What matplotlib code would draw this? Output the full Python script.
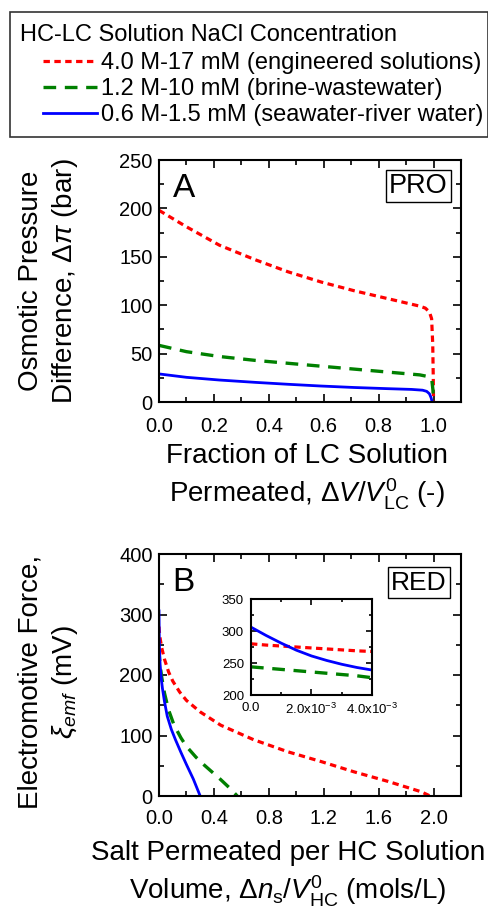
import matplotlib
matplotlib.use("Agg")
import matplotlib.pyplot as plt
from matplotlib.ticker import MultipleLocator, FormatStrFormatter, FuncFormatter
from matplotlib.patches import Rectangle

plt.rcParams['font.family'] = ['Liberation Sans', 'DejaVu Sans']
plt.rcParams['mathtext.fontset'] = 'custom'
plt.rcParams['mathtext.rm'] = 'Liberation Sans'
plt.rcParams['mathtext.it'] = 'Liberation Sans:italic'
plt.rcParams['mathtext.bf'] = 'Liberation Sans:bold'

# series names / colours
labels = ["4.0 M-17 mM (engineered solutions)",
          "1.2 M-10 mM (brine-wastewater)",
          "0.6 M-1.5 mM (seawater-river water)"]
colors = ["#ff0000", "#008000", "#0000ff"]

# panel A: osmotic pressure difference vs fraction of LC permeated
pro_x_red = [0, 0.1, 0.22, 0.35, 0.47, 0.59, 0.71, 0.83, 0.95, 0.97, 0.985, 0.993, 0.997, 0.999, 1.0]
pro_y_red = [198, 181, 162, 147, 134.5, 124, 115, 107, 99, 97, 93, 86, 60, 25, 0]
pro_x_green = [0, 0.1, 0.22, 0.35, 0.47, 0.59, 0.71, 0.83, 0.95, 0.985, 0.994, 0.998, 1.0]
pro_y_green = [58.5, 52, 47, 43, 40, 37, 34, 31, 28, 26, 22, 12, 0]
pro_x_blue = [0, 0.1, 0.22, 0.35, 0.47, 0.59, 0.71, 0.83, 0.92, 0.96, 0.975, 0.985, 0.991, 0.995]
pro_y_blue = [29, 25.5, 22.7, 20.3, 18.3, 16.5, 15, 13.8, 13, 12.2, 11, 8.5, 4.5, 0]

# panel B: electromotive force vs salt permeated
red_x_red = [0, 0.004, 0.01, 0.02, 0.04, 0.07, 0.1, 0.15, 0.2, 0.3, 0.45, 0.69, 0.94, 1.18, 1.42, 1.67, 1.91, 1.975]
red_y_red = [280, 268, 258, 245, 226, 205, 190, 172, 158, 139, 117, 93, 73, 57, 40, 24, 7, 0]
red_x_green = [0, 0.004, 0.01, 0.02, 0.04, 0.07, 0.11, 0.16, 0.2, 0.27, 0.33, 0.4, 0.45, 0.52, 0.57]
red_y_green = [244, 227, 213, 196, 170, 142, 117, 96, 82, 64, 51, 37, 27, 12, 0]
red_x_blue = [0, 0.001, 0.002, 0.004, 0.008, 0.015, 0.025, 0.04, 0.06, 0.09, 0.12, 0.16, 0.2, 0.25, 0.3]
red_y_blue = [306, 281, 261, 239, 218, 197, 178, 156, 132, 110, 93, 72, 52, 28, 0]

# inset of panel B (first 4e-3 mol/L)
ins_x = [0, 0.5e-3, 1e-3, 1.5e-3, 2e-3, 2.5e-3, 3e-3, 3.5e-3, 4e-3]
ins_red = [280, 278, 276.5, 275, 273.5, 272, 270.5, 269, 268]
ins_green = [244, 242, 240, 238, 236, 234, 232, 230, 227]
ins_blue = [306, 293, 281, 270, 261, 254, 248, 243, 239]

styles = [dict(color=colors[0], lw=2.3, ls=(0, (2.0, 1.4))),
          dict(color=colors[1], lw=2.4, ls=(0, (3.8, 2.6))),
          dict(color=colors[2], lw=2.0, ls='-')]


def style_axes(ax, tick_fs=14.5, xpad=10, ypad=4.5, lw=1.5):
    for s in ax.spines.values():
        s.set_linewidth(lw)
    ax.tick_params(which='both', direction='in', top=True, right=True, width=1.2)
    ax.tick_params(which='major', length=6, labelsize=tick_fs)
    ax.tick_params(which='minor', length=3.5)
    ax.tick_params(axis='x', pad=xpad)
    ax.tick_params(axis='y', pad=ypad)


W, H = 489, 909
fig = plt.figure(figsize=(W / 100, H / 100), dpi=100)

# ---- panel A ----
axA = fig.add_axes([159 / W, 1 - 402 / H, 302 / W, 242 / H])
lA = []
for xs, ys, st in zip([pro_x_red, pro_x_green, pro_x_blue],
                      [pro_y_red, pro_y_green, pro_y_blue], styles):
    lA.append(axA.plot(xs, ys, **st)[0])
axA.set_xlim(0, 1.1)
axA.set_ylim(0, 250)
axA.xaxis.set_major_locator(MultipleLocator(0.2))
axA.xaxis.set_minor_locator(MultipleLocator(0.1))
axA.yaxis.set_major_locator(MultipleLocator(50))
axA.yaxis.set_minor_locator(MultipleLocator(25))
axA.xaxis.set_major_formatter(FormatStrFormatter('%.1f'))
style_axes(axA, xpad=11)
axA.set_xlabel("Fraction of LC Solution\nPermeated, $\\Delta V/V^{0}_{\\rm LC}$ (-)",
               fontsize=20, linespacing=1.3, va='top')
axA.xaxis.set_label_coords(0.49, -0.17)
axA.set_ylabel("Osmotic Pressure\nDifference, $\\Delta\\pi$ (bar)",
               fontsize=20, linespacing=1.3)
axA.yaxis.label.set_verticalalignment('center')
axA.yaxis.set_label_coords((49 - 159) / 302, 0.5)
axA.text(0.045, 0.847, "A", transform=axA.transAxes, fontsize=24, va='baseline', ha='left')
axA.text(0.858, 0.893, "PRO", transform=axA.transAxes, fontsize=19.5, ha='center', va='center',
         bbox=dict(boxstyle='square,pad=0.12', fc='white', ec='black', lw=1.0))

# ---- panel B ----
axB = fig.add_axes([159 / W, 1 - 796 / H, 302 / W, 242 / H])
for xs, ys, st in zip([red_x_red, red_x_green, red_x_blue],
                      [red_y_red, red_y_green, red_y_blue], styles):
    axB.plot(xs, ys, **st)
axB.set_xlim(0, 2.2)
axB.set_ylim(0, 400)
axB.xaxis.set_major_locator(MultipleLocator(0.4))
axB.xaxis.set_minor_locator(MultipleLocator(0.2))
axB.yaxis.set_major_locator(MultipleLocator(100))
axB.yaxis.set_minor_locator(MultipleLocator(50))
axB.xaxis.set_major_formatter(FormatStrFormatter('%.1f'))
style_axes(axB, xpad=9)
axB.set_xlabel("Salt Permeated per HC Solution\nVolume, $\\Delta n_{\\rm s}/V^{0}_{\\rm HC}$ (mols/L)",
               fontsize=20, linespacing=1.3, va='top')
axB.xaxis.set_label_coords((288 - 159) / 302, -0.18)
axB.set_ylabel("Electromotive Force,\n$\\xi_{emf}$ (mV)", fontsize=20, linespacing=1.3)
axB.yaxis.label.set_verticalalignment('center')
axB.yaxis.set_label_coords((49 - 159) / 302, 0.47)
axB.text(0.045, 0.847, "B", transform=axB.transAxes, fontsize=24, va='baseline', ha='left')
axB.text(0.861, 0.882, "RED", transform=axB.transAxes, fontsize=19, ha='center', va='center',
         bbox=dict(boxstyle='square,pad=0.12', fc='white', ec='black', lw=1.0))

# ---- inset ----
axI = fig.add_axes([251 / W, 1 - 695 / H, 121 / W, 96 / H])
for ys, st in zip([ins_red, ins_green, ins_blue], styles):
    axI.plot(ins_x, ys, **st)
axI.set_xlim(0, 4e-3)
axI.set_ylim(200, 350)
axI.xaxis.set_major_locator(MultipleLocator(2e-3))
axI.xaxis.set_minor_locator(MultipleLocator(1e-3))
axI.yaxis.set_major_locator(MultipleLocator(50))
axI.yaxis.set_minor_locator(MultipleLocator(25))
axI.xaxis.set_major_formatter(FuncFormatter(
    lambda v, p: "0.0" if abs(v) < 1e-9 else "%.1fx10$^{-3}$" % (v * 1e3)))
style_axes(axI, tick_fs=9.5, xpad=5, ypad=5, lw=1.5)
axI.tick_params(which='major', length=4)
axI.tick_params(which='minor', length=2.5)

# ---- legend ----
fig.add_artist(Rectangle((10 / W, 1 - 137 / H), 478 / W, 125 / H, transform=fig.transFigure,
                         fill=False, lw=1.2, ec='#333333'))
fig.text(20 / W, 1 - 41 / H, "HC-LC Solution NaCl Concentration", fontsize=17, va='baseline')
fig.legend(handles=lA, labels=labels, loc='upper left', bbox_to_anchor=(43 / W, 1 - 52 / H),
           frameon=False, fontsize=17, handlelength=2.3, handletextpad=0.15,
           labelspacing=0.17, borderpad=0, borderaxespad=0)

fig.savefig("out.png", dpi=100)
